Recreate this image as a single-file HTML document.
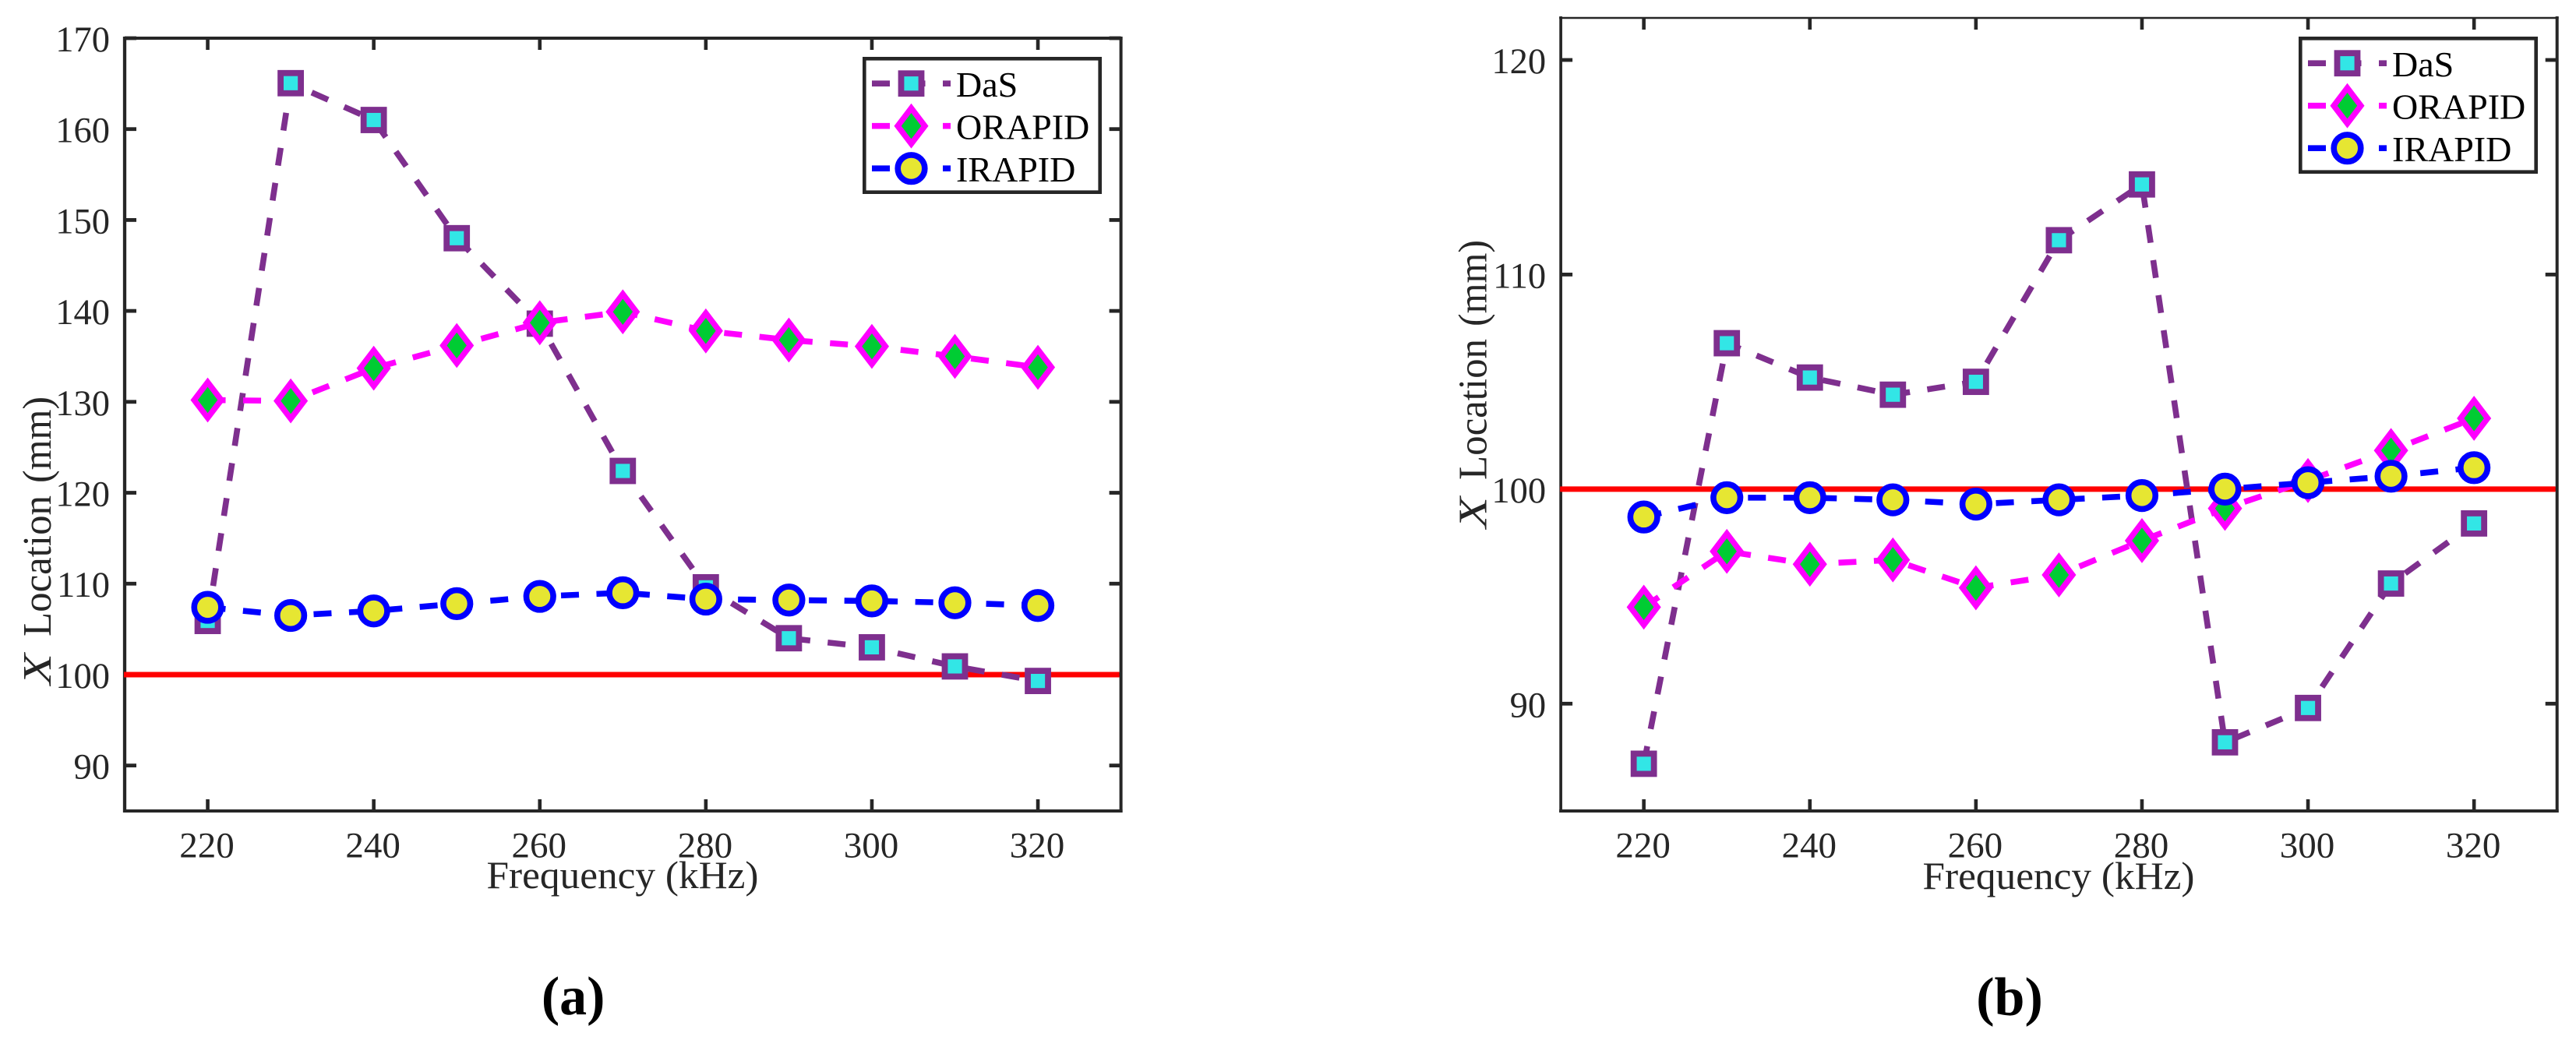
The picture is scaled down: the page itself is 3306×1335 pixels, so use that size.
<!DOCTYPE html>
<html lang="en">
<head>
<meta charset="utf-8">
<title>X location versus frequency</title>
<style>
html,body{margin:0;padding:0;background:#fff;}
svg{display:block;}
text{font-family:"Liberation Serif",serif;}
</style>
</head>
<body>
<svg id="figure" xmlns="http://www.w3.org/2000/svg" width="3306" height="1335" viewBox="0 0 3306 1335"></svg>
<script>
const frequencies = [220, 230, 240, 250, 260, 270, 280, 290, 300, 310, 320];
const xTickValues = [220, 240, 260, 280, 300, 320];
const yTickValuesA = [90, 100, 110, 120, 130, 140, 150, 160, 170];
const yTickValuesB = [90, 100, 110, 120];
const seriesNames = ['DaS', 'ORAPID', 'IRAPID'];
const referenceLocation = 100;
const dasA = [105.9, 165.05, 161, 148, 138.6, 122.4, 109.6, 104, 103, 100.9, 99.3];
const orapidA = [130.2, 130.1, 133.7, 136.2, 138.7, 139.9, 137.8, 136.8, 136.1, 135, 133.8];
const irapidA = [107.4, 106.5, 107, 107.8, 108.6, 109, 108.3, 108.2, 108.1, 107.9, 107.6];
const dasB = [87.2, 106.8, 105.2, 104.4, 105, 111.6, 114.2, 88.2, 89.8, 95.6, 98.4];
const orapidB = [94.5, 97.1, 96.5, 96.7, 95.4, 96, 97.6, 99.1, 100.4, 101.8, 103.3];
const irapidB = [98.7, 99.6, 99.6, 99.5, 99.3, 99.5, 99.7, 100, 100.3, 100.6, 101];

const NS = 'http://www.w3.org/2000/svg';
const INK = '#262626';
const root = document.getElementById('figure');
const styles = {
  das: {line: '#7e2f8e', fill: '#32e6e6', kind: 'square'},
  orapid: {line: '#ff00ff', fill: '#00cc33', kind: 'diamond'},
  irapid: {line: '#0000ff', fill: '#e6e632', kind: 'circle'}
};

function make(tag, parent, attrs) {
  const node = document.createElementNS(NS, tag);
  for (const k in attrs) node.setAttribute(k, attrs[k]);
  parent.appendChild(node);
  return node;
}
function linear(d0, d1, r0, r1) {
  return v => r0 + (v - d0) * (r1 - r0) / (d1 - d0);
}
function drawMarker(parent, kind, cx, cy, stroke, fill, name) {
  let el;
  if (kind === 'square') {
    el = make('rect', parent, {x: cx - 13, y: cy - 13, width: 26, height: 26, fill: fill, stroke: stroke, 'stroke-width': 7.8});
  } else if (kind === 'diamond') {
    const hw = 17.4, hh = 22.8;
    el = make('polygon', parent, {points: [cx - hw, cy, cx, cy - hh, cx + hw, cy, cx, cy + hh].join(' '), fill: fill, stroke: stroke, 'stroke-width': 7.4});
  } else {
    el = make('circle', parent, {cx: cx, cy: cy, r: 17.3, fill: fill, stroke: stroke, 'stroke-width': 7.6});
  }
  
  
}
function drawSeries(parent, key, label, xs, ys, values) {
  const st = styles[key];
  const g = make('g', parent, {});
  
  
  const pts = frequencies.map((f, i) => xs(f) + ',' + ys(values[i])).join(' ');
  const line = make('polyline', g, {points: pts, fill: 'none', stroke: st.line, 'stroke-width': 7.6, 'stroke-dasharray': '23 22.5'});
  
  
  frequencies.forEach((f, i) => {
    drawMarker(g, st.kind, xs(f), ys(values[i]), st.line, st.fill, 'marker-' + key + '-' + f);
  });
}
function drawPanel(p) {
  const g = make('g', root, {});
  
  
  const xs = linear(210, 330, p.left, p.right);
  const ys = linear(p.yMin, p.yMax, p.bottom, p.top);

  const frame = make('g', g, {stroke: INK, fill: 'none'});
  
  
  const edges = [
    ['top', p.left - 2, p.top, p.right + 2, p.top, p.topW],
    ['bottom', p.left - 2, p.bottom, p.right + 2, p.bottom, 4],
    ['left', p.left, p.top - 2, p.left, p.bottom + 2, p.leftW],
    ['right', p.right, p.top - 2, p.right, p.bottom + 2, 4]
  ];
  edges.forEach(e => {
    const l = make('line', frame, {x1: e[1], y1: e[2], x2: e[3], y2: e[4], 'stroke-width': e[5]});
    
    
  });

  xTickValues.forEach(v => {
    const x = xs(v);
    const t1 = make('line', frame, {x1: x, y1: p.bottom, x2: x, y2: p.bottom - 15, 'stroke-width': 4.6});
    
    
    const t2 = make('line', frame, {x1: x, y1: p.top, x2: x, y2: p.top + 15, 'stroke-width': 4.6});
    
    
    const lb = make('text', g, {x: x - 1, y: 1100.5, 'text-anchor': 'middle', 'font-size': 47, fill: INK});
    lb.textContent = String(v);
    
    
  });
  p.yTicks.forEach(v => {
    const y = ys(v);
    const t1 = make('line', frame, {x1: p.left, y1: y, x2: p.left + 15, y2: y, 'stroke-width': 4.8});
    
    
    const t2 = make('line', frame, {x1: p.right, y1: y, x2: p.right - 15, y2: y, 'stroke-width': 4.8});
    
    
    const lb = make('text', g, {x: p.left - 19, y: y + 17, 'text-anchor': 'end', 'font-size': 46.5, fill: INK});
    lb.textContent = String(v);
    
    
  });

  const ref = make('line', g, {x1: p.left - 1, y1: ys(referenceLocation), x2: p.right - 2, y2: ys(referenceLocation), stroke: '#ff0000', 'stroke-width': 7});
  
  

  drawSeries(g, 'das', seriesNames[0], xs, ys, p.das);
  drawSeries(g, 'orapid', seriesNames[1], xs, ys, p.orapid);
  drawSeries(g, 'irapid', seriesNames[2], xs, ys, p.irapid);

  const xt = make('text', g, {x: p.xTitleX, y: p.xTitleY, 'font-size': 50, fill: INK, textLength: 349, lengthAdjust: 'spacingAndGlyphs'});
  xt.textContent = 'Frequency (kHz)';
  
  

  const yt = make('text', g, {transform: 'translate(' + p.yTitleX + ',' + p.yTitleY + ') rotate(-90)', 'font-size': 52, fill: INK});
  
  
  const s1 = make('tspan', yt, {x: 0, y: 0, 'font-style': 'italic', textLength: 40, lengthAdjust: 'spacingAndGlyphs'});
  s1.textContent = 'X';
  const s2 = make('tspan', yt, {x: 62, y: 0, textLength: 181, lengthAdjust: 'spacingAndGlyphs'});
  s2.textContent = ' Location'.trim();
  const s3 = make('tspan', yt, {x: 259, y: 0, textLength: 111, lengthAdjust: 'spacingAndGlyphs'});
  s3.textContent = '(mm)';

  const lg = make('g', g, {});
  
  
  const box = make('rect', lg, {x: p.legX + 2.3, y: p.legY + 2.3, width: 302.4, height: 171.4, fill: '#fff', stroke: INK, 'stroke-width': 4.6});
  
  
  ['das', 'orapid', 'irapid'].forEach((key, i) => {
    const st = styles[key];
    const ly = p.legY + 34.2 + i * 54.5;
    const row = make('g', lg, {});
    
    
    const ln = make('line', row, {x1: p.legX + 12, y1: ly, x2: p.legX + 113, y2: ly, stroke: st.line, 'stroke-width': 7.6, 'stroke-dasharray': '23 22.5'});
    
    
    drawMarker(row, st.kind, p.legX + 62.5, ly, st.line, st.fill, 'legend-marker-' + key);
    const tx = make('text', row, {x: p.legX + 120, y: ly + 17, 'font-size': 46, fill: '#000'});
    tx.textContent = seriesNames[i];
    
    
  });

  const cap = make('text', g, {x: p.capX, y: p.capY, 'text-anchor': 'middle', 'font-size': 70, 'font-weight': 'bold', fill: '#000'});
  cap.textContent = p.caption;
  
  
}

drawPanel({
  id: 'a', caption: '(a)', left: 160, right: 1438.6, top: 49, bottom: 1041, yMin: 85, yMax: 170,
  topW: 4, leftW: 4.3, yTicks: yTickValuesA, das: dasA, orapid: orapidA, irapid: irapidA,
  xTitleX: 624.5, xTitleY: 1140, yTitleX: 65, yTitleY: 879, legX: 1107, legY: 73, capX: 735.7, capY: 1302
});
drawPanel({
  id: 'b', caption: '(b)', left: 2003.1, right: 3281.7, top: 23, bottom: 1041, yMin: 85, yMax: 121.96,
  topW: 2.6, leftW: 3.7, yTicks: yTickValuesB, das: dasB, orapid: orapidB, irapid: irapidB,
  xTitleX: 2467.5, xTitleY: 1141, yTitleX: 1907.7, yTitleY: 678, legX: 2950, legY: 47, capX: 2579, capY: 1303
});
</script>
</body>
</html>
